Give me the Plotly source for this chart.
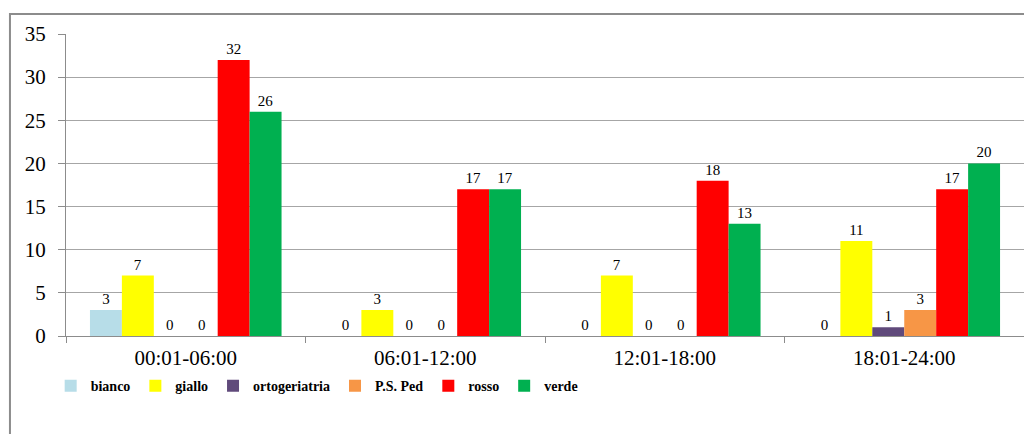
import plotly.graph_objects as go

categories = ["00:01-06:00", "06:01-12:00", "12:01-18:00", "18:01-24:00"]
series_names = ["bianco", "giallo", "ortogeriatria", "P.S. Ped", "rosso", "verde"]
bianco = [3, 0, 0, 0]
giallo = [7, 3, 7, 11]
ortogeriatria = [0, 0, 0, 1]
ps_ped = [0, 0, 0, 3]
rosso = [32, 17, 18, 17]
verde = [26, 17, 13, 20]
colors = ["#b7dde8", "#ffff00", "#604a7b", "#f79646", "#ff0000", "#00b050"]
y_ticks = [0, 5, 10, 15, 20, 25, 30, 35]

series_values = [bianco, giallo, ortogeriatria, ps_ped, rosso, verde]
serif = "Liberation Serif, Times New Roman, serif"

fig = go.Figure()
for name, vals, col in zip(series_names, series_values, colors):
    fig.add_trace(go.Bar(
        name=name, x=categories, y=vals, marker=dict(color=col, line=dict(width=0)),
        text=[str(v) for v in vals], textposition="outside",
        textfont=dict(family=serif, size=15, color="#000000"),
        cliponaxis=False,
    ))

fig.update_layout(
    width=1032, height=434,
    margin=dict(l=58, r=16, t=26, b=106, autoexpand=False),
    paper_bgcolor="white", plot_bgcolor="white",
    barmode="group", bargap=0.2, bargroupgap=0,
    showlegend=True,
    legend=dict(orientation="h", x=-0.016, y=-0.166, xanchor="left", yanchor="middle",
                font=dict(family=serif, size=14, color="#000000", weight="bold"),
                itemwidth=30, tracegroupgap=0),
)
fig.update_xaxes(
    type="category", showgrid=False, showline=True, linecolor="#8c8c8c", linewidth=1,
    ticks="outside", tickson="boundaries", ticklen=6, tickcolor="#8c8c8c",
    tickfont=dict(family=serif, size=21, color="#000000"), automargin=False,
    ticklabelstandoff=3,
)
fig.update_yaxes(
    range=[0, 35], tickvals=y_ticks, showgrid=True, gridcolor="#a6a6a6", gridwidth=1,
    showline=True, linecolor="#8c8c8c", linewidth=1,
    ticks="outside", ticklen=7, tickcolor="#8c8c8c",
    tickfont=dict(family=serif, size=21, color="#000000"), zeroline=False, automargin=False,
    ticklabelstandoff=8,
)
fig.add_shape(type="rect", xref="paper", yref="paper",
              x0=-0.0585, x1=1.05, y0=-0.4, y1=1.0662,
              line=dict(color="#8c8c8c", width=2), fillcolor="rgba(0,0,0,0)", layer="below")

fig.write_html("out.html")
